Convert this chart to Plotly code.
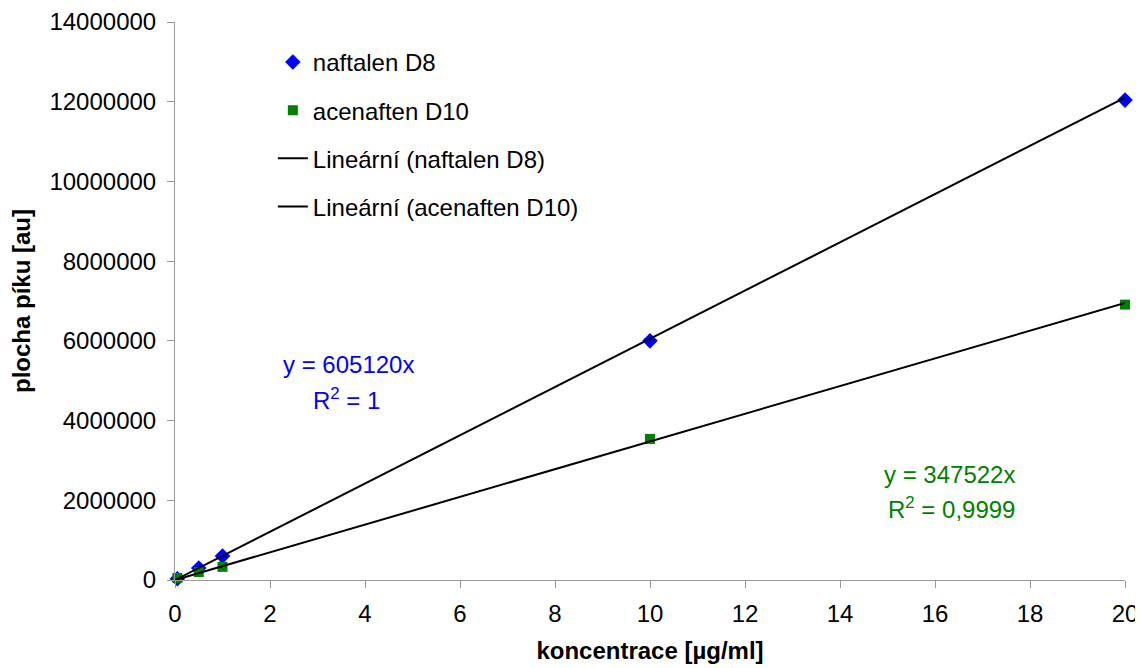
import plotly.graph_objects as go

# koncentrace [ug/ml]
koncentrace = [0.05, 0.5, 1, 10, 20]
naftalen_d8 = [30000, 300000, 600000, 6000000, 12040000]
acenaften_d10 = [50000, 200000, 330000, 3540000, 6910000]

# smernice linearnich trendu (z grafu)
smernice_naftalen = 605120
smernice_acenaften = 347522
x_trend = [0, 20]

font = "Liberation Sans, Arial, sans-serif"
fs = 24

fig = go.Figure()

fig.add_trace(go.Scatter(x=koncentrace, y=naftalen_d8, mode="markers", name="naftalen D8",
                         legendgroup="a",
                         marker=dict(symbol="diamond", size=12, color="#0000ff"),
                         cliponaxis=False))
fig.add_trace(go.Scatter(x=koncentrace, y=acenaften_d10, mode="markers", name="acenaften D10",
                         legendgroup="b",
                         marker=dict(symbol="square", size=10, color="#008000"),
                         cliponaxis=False))
fig.add_trace(go.Scatter(x=x_trend, y=[smernice_naftalen * v for v in x_trend], mode="lines",
                         name="Lineární (naftalen D8)", legendgroup="c",
                         line=dict(color="black", width=2), cliponaxis=False))
fig.add_trace(go.Scatter(x=x_trend, y=[smernice_acenaften * v for v in x_trend], mode="lines",
                         name="Lineární (acenaften D10)", legendgroup="d",
                         line=dict(color="black", width=2), cliponaxis=False))

# rovnice trendu
fig.add_annotation(x=3.66, y=5400000, xref="x", yref="y", showarrow=False,
                   text="y = 605120x", font=dict(family=font, size=fs, color="#0000ff"))
fig.add_annotation(x=3.60, y=4540000, xref="x", yref="y", showarrow=False,
                   text="R<sup>2</sup> = 1", font=dict(family=font, size=fs, color="#0000ff"))
fig.add_annotation(x=16.31, y=2640000, xref="x", yref="y", showarrow=False,
                   text="y = 347522x", font=dict(family=font, size=fs, color="#008000"))
fig.add_annotation(x=16.34, y=1810000, xref="x", yref="y", showarrow=False,
                   text="R<sup>2</sup> = 0,9999", font=dict(family=font, size=fs, color="#008000"))

fig.update_layout(
    width=1143, height=668,
    margin=dict(l=167, r=26, t=14, b=96),
    paper_bgcolor="white", plot_bgcolor="white",
    font=dict(family=font, size=fs, color="black"),
    showlegend=True,
    legend=dict(x=0.103, y=0.968, xanchor="left", yanchor="top",
                bgcolor="rgba(0,0,0,0)", tracegroupgap=14,
                font=dict(family=font, size=fs)),
)
fig.update_xaxes(range=[0, 20], dtick=2, showgrid=False, zeroline=False, automargin=False,
                 showline=True, linecolor="#999999", linewidth=1,
                 ticks="outside", ticklen=7, tickcolor="#999999", ticklabelstandoff=5,
                 title=dict(text="<b>koncentrace [µg/ml]</b>", standoff=16,
                            font=dict(family=font, size=fs)))
fig.update_yaxes(range=[0, 14000000], dtick=2000000, tickformat="d", showgrid=False,
                 zeroline=False, automargin=False, showline=True, linecolor="#999999",
                 linewidth=1, ticks="outside", ticklen=7, tickcolor="#999999",
                 ticklabelstandoff=6,
                 title=dict(text="<b>plocha píku [au]</b>", standoff=16,
                            font=dict(family=font, size=fs)))

fig.write_html("out.html")
